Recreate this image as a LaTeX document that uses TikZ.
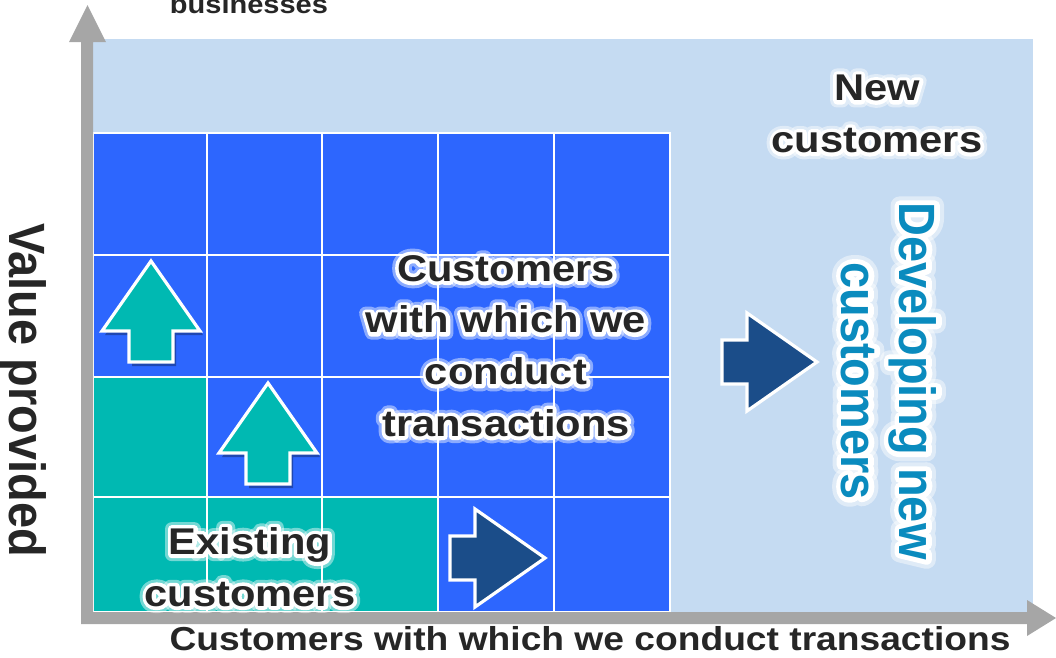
\documentclass[tikz,border=0pt]{standalone}
\usepackage{fontspec}
\setmainfont{Liberation Sans}
% wide face for horizontal labels, narrow face for labels set sideways
\newfontfamily\wideface{Liberation Sans}[FakeStretch=1.12]
\newfontfamily\tallface{Liberation Sans}[FakeStretch=0.92]
% stroked versions of the same faces, used for the white halo
\newfontfamily\wideglowhard{Liberation Sans}[FakeStretch=1.12,FakeBold=20]
\newfontfamily\wideglowsoft{Liberation Sans}[FakeStretch=1.12,FakeBold=36]
\newfontfamily\tallglowhard{Liberation Sans}[FakeStretch=0.92,FakeBold=20]
\newfontfamily\tallglowsoft{Liberation Sans}[FakeStretch=0.92,FakeBold=36]
\usetikzlibrary{calc}

\definecolor{cellblue}{HTML}{2D66FE}
\definecolor{cellteal}{HTML}{00B9B2}
\definecolor{fieldblue}{HTML}{C5DBF2}
\definecolor{axisgray}{HTML}{A6A6A6}
\definecolor{darkarrow}{HTML}{1B4D89}
\definecolor{ink}{HTML}{262626}
\definecolor{devink}{HTML}{0A8BBE}

% label with a white halo: #1 name, #2 position, #3 style, #4 extra options,
% #5 soft halo face, #6 hard halo face, #7 text
\newcommand\glowlabel[7]{%
  \begin{scope}[line join=round,line cap=round]
  \node[#3=#5,#4,text=white,opacity=0.45] at (#2) {#7};
  \node[#3=#6,#4,text=white] at (#2) {#7};
  \end{scope}
  \node[#3,#4] (#1) at (#2) {#7};}

\begin{document}
\begin{tikzpicture}[x=1pt,y=-1pt,
  gridline/.style={draw=white,line width=2.4pt},
  arrowshape/.style={draw=white,line width=3.2pt,line join=miter,fill=#1},
  shadowshape/.style={fill=black,opacity=0.3},
  bigtext/.style={font={#1\bfseries\fontsize{37.2}{51.7}\selectfont},text=ink,align=center,inner sep=0pt},
  bigtext/.default=\wideface,
  sidetext/.style={font={#1\bfseries\fontsize{51}{58}\selectfont},align=center,inner sep=0pt,rotate=-90},
  sidetext/.default=\tallface,
  axistext/.style={font={\wideface\bfseries\fontsize{33.2}{40}\selectfont},text=ink,inner sep=0pt},
  toptext/.style={font={\wideface\bfseries\fontsize{25.9}{30}\selectfont},text=ink,inner sep=0pt},
]
\useasboundingbox (0,0) rectangle (1056,657);
\clip (0,0) rectangle (1056,657);

% background field and the grid of cells
\fill[fieldblue] (93,39) rectangle (1033,612);
\fill[cellblue] (93,133) rectangle (670,612);
\fill[cellteal] (93,377) rectangle (207,612);
\fill[cellteal] (93,497) rectangle (438,612);
\draw[gridline] (93,133) rectangle (670,612);
\foreach \gx in {207,322,438,554} \draw[gridline] (\gx,133) -- (\gx,612);
\foreach \gy in {255,377,497} \draw[gridline] (93,\gy) -- (670,\gy);

% axes
\coordinate (origin) at (87,618);
\fill[axisgray] (81,624) -- (81,42) -- (69,42) -- (87.5,5) -- (106,42) -- (93,42)
  -- (93,612) -- (1027,612) -- (1027,600) -- (1056,618) -- (1027,636) -- (1027,624) -- cycle;

% upward arrows (tip given)
\foreach \tx/\ty in {151/258, 268/380} {
  \fill[shadowshape,shift={(\tx+3,\ty+4)}] (0,3) -- (-49,73) -- (-22,73) -- (-22,104) -- (22,104) -- (22,73) -- (49,73) -- cycle;
  \draw[arrowshape=cellteal,shift={(\tx,\ty)}] (0,3) -- (-49,73) -- (-22,73) -- (-22,104) -- (22,104) -- (22,73) -- (49,73) -- cycle;
}
% rightward arrows (tip given)
\foreach \tx/\ty in {548/558, 820/362} {
  \draw[arrowshape=darkarrow,shift={(\tx,\ty)}] (-3,0) -- (-73,-49) -- (-73,-22) -- (-98,-22) -- (-98,22) -- (-73,22) -- (-73,49) -- cycle;
}

% labels
\glowlabel{current}{506,346}{bigtext}{text=ink}{\wideglowsoft}{\wideglowhard}{Customers\\with which we\\conduct\\transactions}
\glowlabel{newcust}{877,114}{bigtext}{text=ink}{\wideglowsoft}{\wideglowhard}{New\\customers}
\glowlabel{existing}{250,567}{bigtext}{text=ink}{\wideglowsoft}{\wideglowhard}{Existing\\customers}
\glowlabel{develop}{889,381}{sidetext}{text=devink}{\tallglowsoft}{\tallglowhard}{Developing new\\customers}

\node[axistext,anchor=base] (xlabel) at (590,650) {Customers with which we conduct transactions};
\node[toptext,anchor=base] (ylabeltop) at (249,13) {businesses};
\node[sidetext,text=ink] (ylabel) at (23,390) {Value provided};
\end{tikzpicture}
\end{document}
